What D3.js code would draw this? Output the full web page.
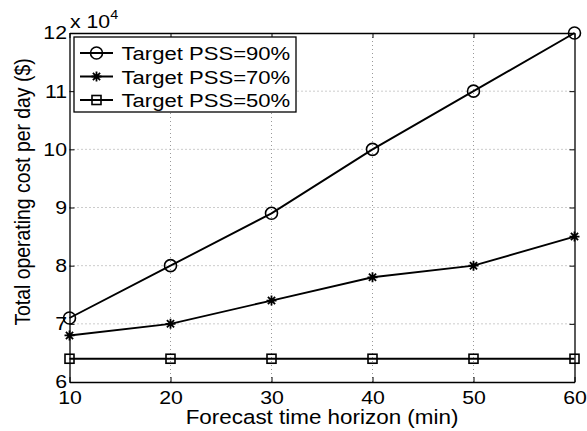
<!DOCTYPE html>
<html>
<head>
<meta charset="utf-8">
<script src="https://cdn.jsdelivr.net/npm/d3@7"></script>
<style>
  body { margin: 0; background: #fff; }
  text { font-family: "Liberation Sans", Arial, sans-serif; fill: #000; }
</style>
</head>
<body>
<div id="chart-area"></div>
<script>
// data (cost in units of 10^4 $)
const horizons = [10, 20, 30, 40, 50, 60];
const pss90 = [7.1, 8.0, 8.9, 10.0, 11.0, 12.0];
const pss70 = [6.8, 7.0, 7.4, 7.8, 8.0, 8.5];
const pss50 = [6.4, 6.4, 6.4, 6.4, 6.4, 6.4];
const seriesNames = ['Target PSS=90%', 'Target PSS=70%', 'Target PSS=50%'];
const seriesMarkers = ['circle', 'star', 'square'];
const xTicks = [10, 20, 30, 40, 50, 60];
const yTicks = [6, 7, 8, 9, 10, 11, 12];

const W = 587, H = 431;
const margins = { left: 69.5, right: 12.5, top: 33, bottom: 49 };
const width = W - margins.left - margins.right;
const height = H - margins.top - margins.bottom;
// the source figure is a bit wider than tall, so glyphs come out stretched
const sx = 1.15;

const svg = d3.select('#chart-area')
  .append('svg')
  .attr('width', W)
  .attr('height', H);

const g = svg.append('g')
  .attr('transform', 'translate(' + margins.left + ', ' + margins.top + ')');

const x = d3.scaleLinear().domain([10, 60]).range([0, width]);
const y = d3.scaleLinear().domain([6, 12]).range([height, 0]);

// grid
g.append('g').selectAll('line')
  .data(xTicks.slice(1, -1))
  .enter().append('line')
  .attr('x1', d => x(d)).attr('x2', d => x(d))
  .attr('y1', 0).attr('y2', height)
  .attr('stroke', '#999').attr('stroke-width', 1)
  .attr('stroke-dasharray', '1,3');
g.append('g').selectAll('line')
  .data(yTicks.slice(1, -1))
  .enter().append('line')
  .attr('x1', 0).attr('x2', width)
  .attr('y1', d => y(d)).attr('y2', d => y(d))
  .attr('stroke', '#999').attr('stroke-width', 1)
  .attr('stroke-dasharray', '1,3');

// axes (ticks inward, MATLAB box)
const tick = 5;
const xAxis = d3.axisBottom(x).tickValues(xTicks).tickFormat(d3.format('d'))
  .tickSizeInner(-tick).tickSizeOuter(0).tickPadding(9);
const yAxis = d3.axisLeft(y).tickValues(yTicks).tickFormat(d3.format('d'))
  .tickSizeInner(-tick).tickSizeOuter(0).tickPadding(2.5);
const xTop = d3.axisTop(x).tickValues(xTicks).tickSizeInner(-tick).tickSizeOuter(0).tickFormat('');
const yRight = d3.axisRight(y).tickValues(yTicks).tickSizeInner(-tick).tickSizeOuter(0).tickFormat('');

const gx = g.append('g').attr('transform', 'translate(0, ' + height + ')').call(xAxis);
const gy = g.append('g').call(yAxis);
g.append('g').call(xTop);
g.append('g').attr('transform', 'translate(' + width + ', 0)').call(yRight);

g.selectAll('.domain').attr('stroke', '#000').attr('stroke-width', 1.3);
g.selectAll('.tick line').attr('stroke', '#000');
[gx, gy].forEach(ax => {
  ax.selectAll('text')
    .style('font-size', '18.5px')
    .attr('transform', function() {
      const tx = +d3.select(this).attr('x') || 0;
      return 'translate(' + tx + ',0) scale(' + sx + ',1) translate(' + (-tx) + ',0)';
    });
});

// exponent label
const expo = svg.append('text')
  .attr('transform', 'translate(70, 28) scale(' + sx + ',1)')
  .style('font-size', '18.5px');
expo.append('tspan').text('x 10');
expo.append('tspan').style('font-size', '12.5px').attr('dy', -9).text('4');

// axis labels
svg.append('text')
  .attr('transform', 'translate(' + (margins.left + width / 2) + ', 424) scale(' + sx + ',1)')
  .attr('text-anchor', 'middle')
  .style('font-size', '19.5px')
  .text('Forecast time horizon (min)');

svg.append('text')
  .attr('transform', 'translate(30, 192) scale(' + sx + ',1) rotate(-90)')
  .attr('text-anchor', 'middle')
  .style('font-size', '19.4px')
  .text('Total operating cost per day ($)');

// lines
const line = d3.line().x((d, i) => x(horizons[i])).y(d => y(d));
const allSeries = [pss90, pss70, pss50];

function drawMarker(sel, type) {
  if (type === 'circle') {
    sel.append('circle').attr('r', 6).attr('fill', 'none').attr('stroke', '#000').attr('stroke-width', 1.6);
  } else if (type === 'square') {
    sel.append('rect').attr('x', -4.5).attr('y', -4.5).attr('width', 9).attr('height', 9)
      .attr('fill', 'none').attr('stroke', '#000').attr('stroke-width', 1.6);
  } else {
    const s = 5;
    const p = d3.path();
    p.moveTo(-s, 0); p.lineTo(s, 0);
    p.moveTo(0, -s); p.lineTo(0, s);
    p.moveTo(-s * 0.72, -s * 0.72); p.lineTo(s * 0.72, s * 0.72);
    p.moveTo(-s * 0.72, s * 0.72); p.lineTo(s * 0.72, -s * 0.72);
    sel.append('path').attr('d', p.toString()).attr('stroke', '#000').attr('stroke-width', 1.8);
  }
}

allSeries.forEach((data, k) => {
  g.append('path')
    .datum(data)
    .attr('d', line)
    .attr('fill', 'none')
    .attr('stroke', '#000')
    .attr('stroke-width', 1.9);
  g.selectAll('.m' + k)
    .data(data)
    .enter().append('g')
    .attr('class', 'm' + k)
    .attr('transform', (d, i) => 'translate(' + x(horizons[i]) + ',' + y(d) + ')')
    .each(function() { drawMarker(d3.select(this), seriesMarkers[k]); });
});

// legend
const legend = g.append('g').attr('transform', 'translate(4.5, 4)');
legend.append('rect')
  .attr('width', 222).attr('height', 75)
  .attr('fill', '#fff').attr('stroke', '#000').attr('stroke-width', 1.3);
seriesNames.forEach((name, k) => {
  const row = legend.append('g').attr('transform', 'translate(0, ' + (16 + k * 23.5) + ')');
  row.append('line').attr('x1', 6).attr('x2', 39).attr('y1', 0).attr('y2', 0)
    .attr('stroke', '#000').attr('stroke-width', 1.9);
  drawMarker(row.append('g').attr('transform', 'translate(22.5, 0)'), seriesMarkers[k]);
  row.append('text')
    .attr('transform', 'translate(47.5, 7) scale(' + sx + ',1)')
    .style('font-size', '19.2px').text(name);
});
</script>
</body>
</html>
